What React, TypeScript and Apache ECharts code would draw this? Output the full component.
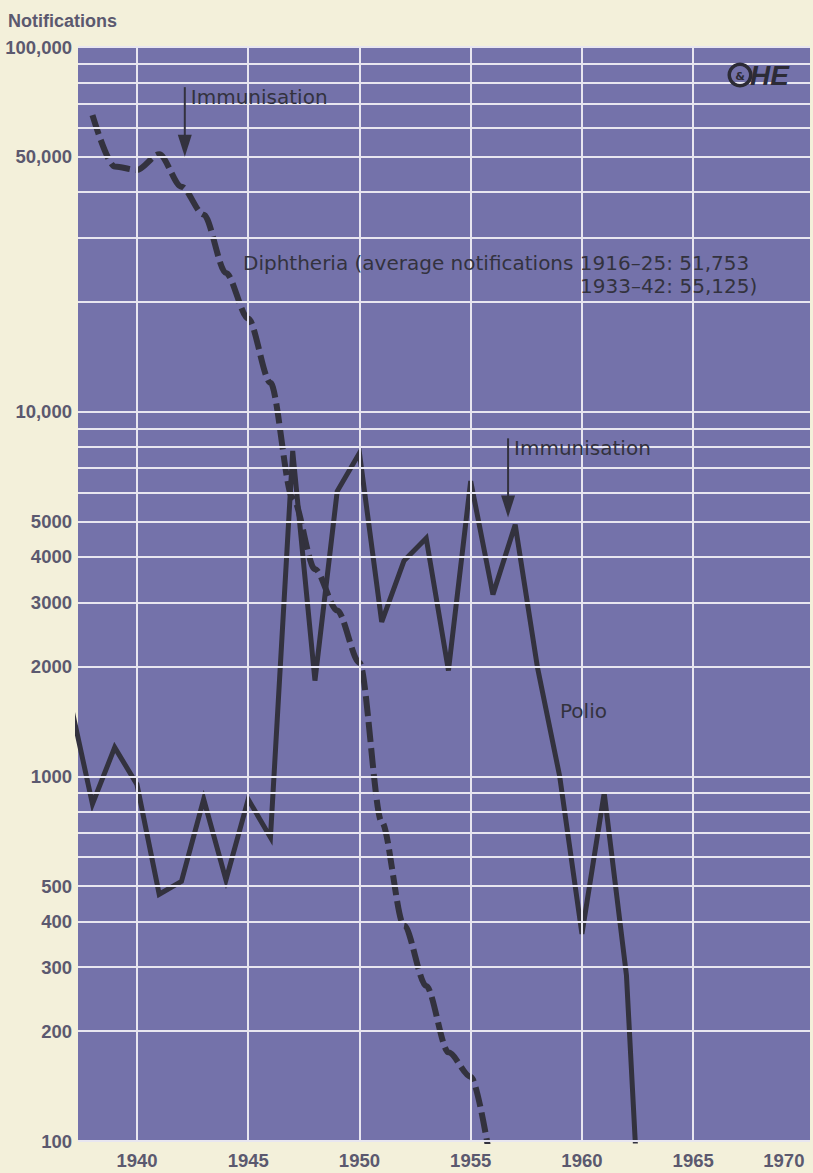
import React, { useEffect, useRef } from "react";
import * as echarts from "echarts";

// Annual notifications, England and Wales
const polioYears = [1937, 1938, 1939, 1940, 1941, 1942, 1943, 1944, 1945, 1946, 1947, 1948, 1949, 1950, 1951, 1952, 1953, 1954, 1955, 1956, 1957, 1958, 1959, 1960, 1961, 1962, 1963];
const polio = [1600, 840, 1200, 950, 475, 515, 865, 520, 865, 680, 7800, 1830, 6050, 7700, 2650, 3900, 4500, 1950, 6450, 3150, 4900, 1990, 1000, 370, 900, 285, 20];

const diphYears = [1938, 1939, 1940, 1941, 1942, 1943, 1944, 1945, 1946, 1947, 1948, 1949, 1950, 1951, 1952, 1953, 1954, 1955, 1956];
const diphtheria = [65000, 47000, 46000, 50800, 41400, 34700, 24000, 18000, 12000, 5800, 3700, 2850, 2050, 750, 390, 266, 175, 150, 80];

const xLabelYears = [1940, 1945, 1950, 1955, 1960, 1965, 1970];
const xGridYears = [1940, 1945, 1950, 1955, 1960, 1965];
const yGridValues = [
  100, 200, 300, 400, 500, 600, 700, 800, 900,
  1000, 2000, 3000, 4000, 5000, 6000, 7000, 8000, 9000,
  10000, 20000, 30000, 40000, 50000, 60000, 70000, 80000, 90000, 100000,
];
const yLabelValues = [100, 200, 300, 400, 500, 1000, 2000, 3000, 4000, 5000, 10000, 50000, 100000];
const yLabelTexts = ["100", "200", "300", "400", "500", "1000", "2000", "3000", "4000", "5000", "10,000", "50,000", "100,000"];

// Start of immunisation campaigns: year, arrow top value, arrow tip value
const immunYears = [1942.15, 1956.68];
const immunFrom = [77600, 8450];
const immunTo = [50000, 5130];

const PAPER = "#f3f0da";
const PLOT = "#7472aa";
const GRID_LINE = "#e8e6f0";
const INK = "#33323e";
const LABEL = "#5b596f";
const TICK_FONT = "'Liberation Sans', Arial, sans-serif";
const ANNOT_FONT = "'DejaVu Sans', sans-serif";

export default function App() {
  const ref = useRef<HTMLDivElement>(null);

  useEffect(() => {
    if (!ref.current) return;
    const chart = echarts.init(ref.current, null, { renderer: "svg" });

    const labelStyle = {
      color: LABEL,
      fontFamily: TICK_FONT,
      fontWeight: "bold" as const,
      fontSize: 18.5,
    };

    const gridLines: any[] = [
      ...yGridValues.map((v) => {
        const idx = yLabelValues.indexOf(v);
        return {
          yAxis: v,
          label:
            idx >= 0
              ? { show: true, position: "start", formatter: yLabelTexts[idx], distance: 6, ...labelStyle }
              : { show: false },
        };
      }),
      ...xGridYears.map((y) => ({ xAxis: y, label: { show: false } })),
    ];

    chart.setOption({
      animation: false,
      backgroundColor: PAPER,
      grid: {
        left: 78,
        right: 3,
        top: 47,
        bottom: 32,
        show: true,
        backgroundColor: PLOT,
        borderWidth: 0,
      },
      xAxis: {
        type: "value",
        min: 1937.35,
        max: 1970.25,
        axisLine: { show: false },
        axisTick: { show: false },
        splitLine: { show: false },
        axisLabel: {
          customValues: xLabelYears,
          formatter: (v: number) => String(v),
          margin: 10,
          alignMaxLabel: "right",
          ...labelStyle,
        },
      },
      yAxis: {
        type: "log",
        logBase: 10,
        min: 100,
        max: 100000,
        axisLine: { show: false },
        axisTick: { show: false },
        splitLine: { show: false },
        axisLabel: { show: false },
      },
      series: [
        {
          name: "grid",
          type: "line",
          data: [],
          z: 1,
          silent: true,
          markLine: {
            silent: true,
            animation: false,
            symbol: ["none", "none"],
            lineStyle: { color: GRID_LINE, width: 2, type: "solid" },
            emphasis: { disabled: true },
            label: { show: false },
            data: gridLines,
          },
        },
        {
          name: "Diphtheria",
          type: "line",
          z: 3,
          data: diphYears.map((y, i) => [y, diphtheria[i]]),
          showSymbol: false,
          smooth: 0.3,
          smoothMonotone: "x",
          clip: true,
          lineStyle: { color: INK, width: 6, type: [20, 6], cap: "butt" },
        },
        {
          name: "Polio",
          type: "line",
          z: 4,
          data: polioYears.map((y, i) => [y, polio[i]]),
          showSymbol: false,
          clip: true,
          lineStyle: { color: INK, width: 5, join: "miter" },
        },
      ],
    });

    const px = (x: number, y: number) => chart.convertToPixel({ gridIndex: 0 }, [x, y]) as number[];
    const annotFont = `normal 20px ${ANNOT_FONT}`;
    const graphics: any[] = [];

    immunYears.forEach((yr, i) => {
      const top = px(yr, immunFrom[i]);
      const tip = px(yr, immunTo[i]);
      const headH = 22;
      const headW = 7;
      graphics.push({
        type: "line",
        z: 10,
        shape: { x1: top[0], y1: top[1], x2: tip[0], y2: tip[1] - headH + 2 },
        style: { stroke: INK, lineWidth: 2 },
      });
      graphics.push({
        type: "polygon",
        z: 10,
        shape: {
          points: [
            [tip[0] - headW, tip[1] - headH],
            [tip[0] + headW, tip[1] - headH],
            [tip[0], tip[1]],
          ],
        },
        style: { fill: INK },
      });
      graphics.push({
        type: "text",
        z: 10,
        x: top[0] + 6,
        y: top[1] + 10,
        style: { text: "Immunisation", fill: INK, font: annotFont, textAlign: "left", textVerticalAlign: "middle" },
      });
    });

    graphics.push(
      {
        type: "text",
        z: 10,
        x: 243,
        y: 251,
        style: {
          text: "{a|Diphtheria (average notifications 1916–25: 51,753}\n{b|1933–42: 55,125)}",
          fill: INK,
          font: annotFont,
          textAlign: "left",
          textVerticalAlign: "top",
          lineHeight: 23,
          rich: {
            a: { fill: INK, font: annotFont, lineHeight: 23 },
            b: { fill: INK, font: annotFont, lineHeight: 23, padding: [0, 0, 0, 337] },
          },
        },
      },
      {
        type: "text",
        z: 10,
        x: 560,
        y: 711,
        style: { text: "Polio", fill: INK, font: annotFont, textAlign: "left", textVerticalAlign: "middle" },
      },
      {
        type: "text",
        z: 10,
        x: 8,
        y: 21,
        style: {
          text: "Notifications",
          fill: LABEL,
          font: `bold 18px ${TICK_FONT}`,
          textAlign: "left",
          textVerticalAlign: "middle",
        },
      },
      // OHE mark
      {
        type: "ring",
        z: 10,
        shape: { cx: 740, cy: 75, r: 12.5, r0: 9 },
        style: { fill: "#2c2b36" },
      },
      {
        type: "text",
        z: 10,
        x: 740,
        y: 76,
        style: { text: "&", fill: "#2c2b36", font: "bold 11px 'DejaVu Sans', sans-serif", textAlign: "center", textVerticalAlign: "middle" },
      },
      {
        type: "text",
        z: 10,
        x: 750,
        y: 75,
        style: { text: "HE", fill: "#2c2b36", font: "bold italic 28px 'Liberation Sans', sans-serif", textAlign: "left", textVerticalAlign: "middle" },
      }
    );

    chart.setOption({ graphic: graphics });

    return () => chart.dispose();
  }, []);

  return (
    <div
      ref={ref}
      style={{ position: "fixed", left: 0, top: 0, width: 813, height: 1173, background: PAPER }}
    />
  );
}
